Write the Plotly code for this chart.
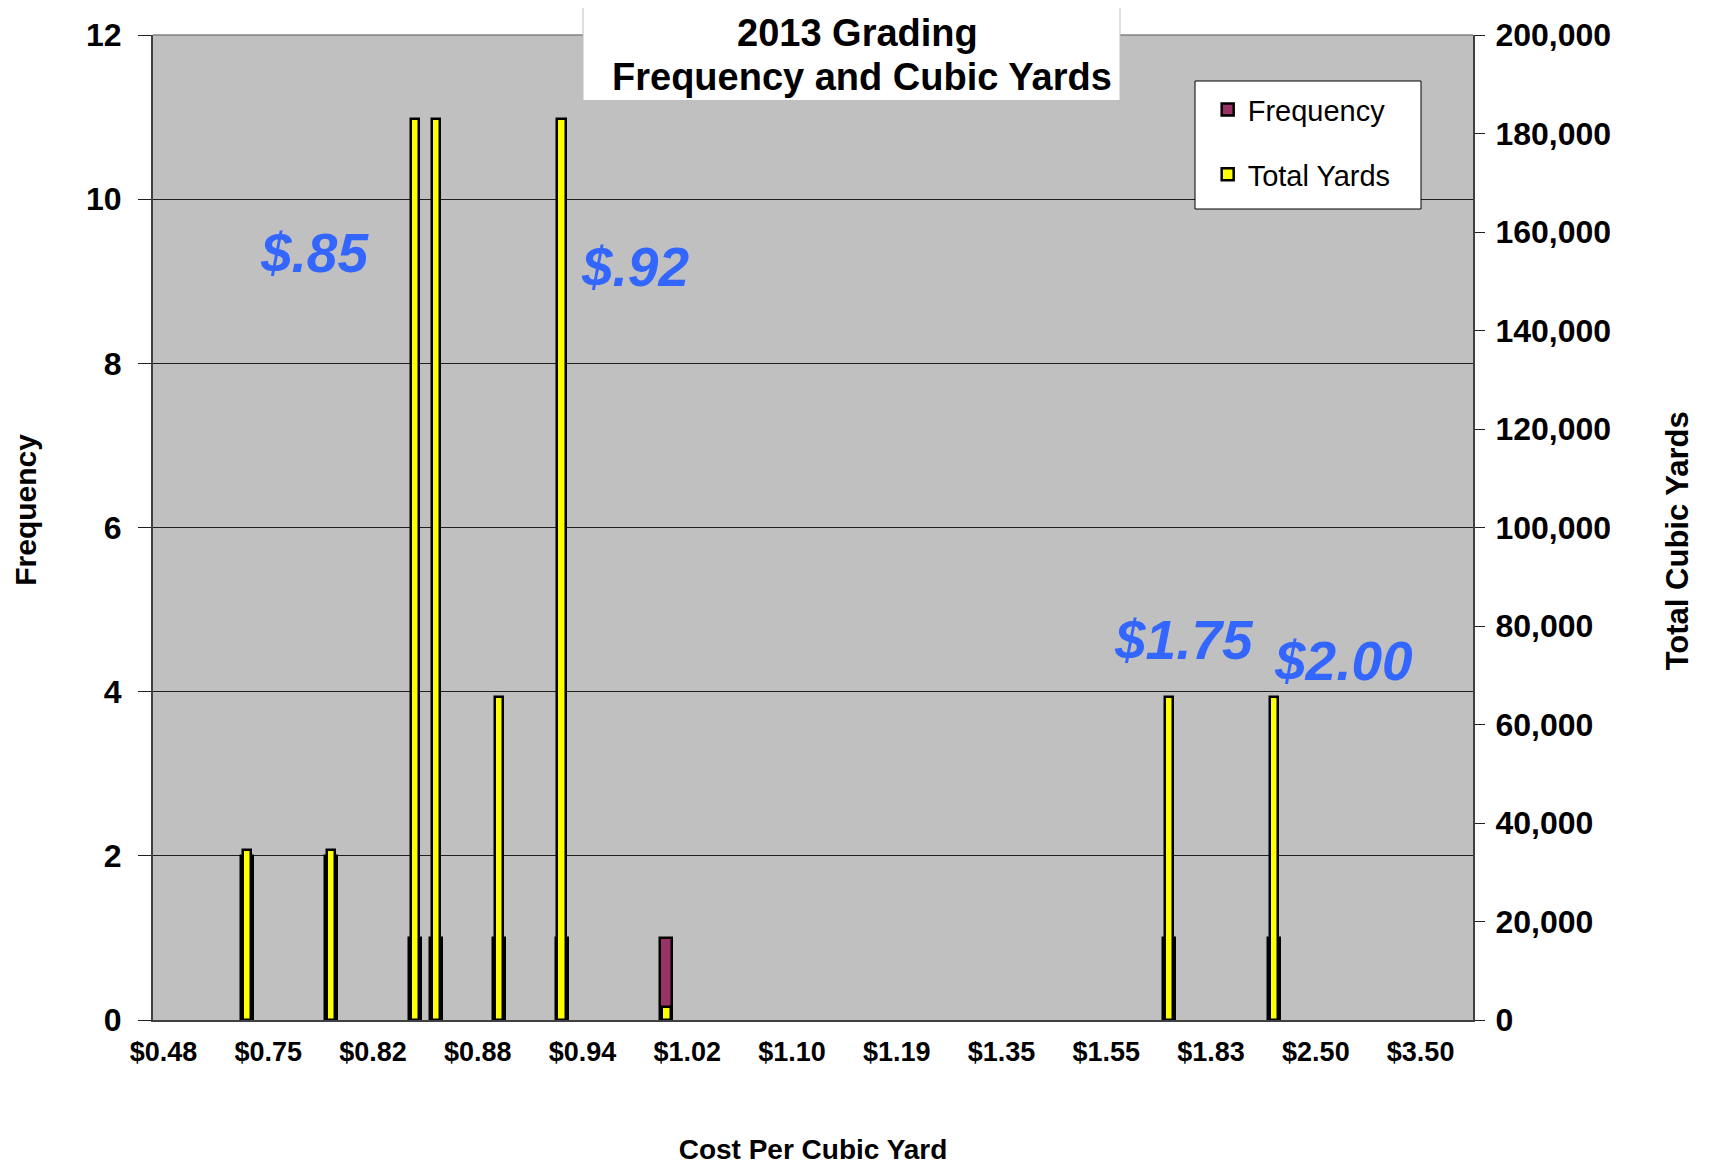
import plotly.graph_objects as go

# ---- data ----
categories = [
    "$0.48", "$0.50", "$0.60", "$0.65", "$0.70",
    "$0.75", "$0.77", "$0.78", "$0.80", "$0.81",
    "$0.82", "$0.83", "$0.84", "$0.85", "$0.86",
    "$0.88", "$0.89", "$0.90", "$0.91", "$0.92",
    "$0.94", "$0.95", "$0.97", "$0.98", "$1.00",
    "$1.02", "$1.03", "$1.05", "$1.07", "$1.08",
    "$1.10", "$1.12", "$1.14", "$1.15", "$1.17",
    "$1.19", "$1.20", "$1.25", "$1.28", "$1.30",
    "$1.35", "$1.40", "$1.45", "$1.48", "$1.50",
    "$1.55", "$1.60", "$1.65", "$1.75", "$1.80",
    "$1.83", "$1.85", "$1.90", "$2.00", "$2.25",
    "$2.50", "$2.75", "$2.85", "$3.00", "$3.25",
    "$3.50", "$3.75", "$4.00",
]
# empty bins are left blank (no bar drawn)
frequency = [None] * 63
total_yards = [None] * 63
freq_points = {"$0.70": 2, "$0.80": 2, "$0.84": 1, "$0.85": 1, "$0.89": 1,
               "$0.92": 1, "$1.00": 1, "$1.75": 1, "$2.00": 1}
yard_points = {"$0.70": 34500, "$0.80": 34500, "$0.84": 183000, "$0.85": 183000,
               "$0.89": 65600, "$0.92": 183000, "$1.00": 2600, "$1.75": 65600,
               "$2.00": 65600}
for k, v in freq_points.items():
    frequency[categories.index(k)] = v
for k, v in yard_points.items():
    total_yards[categories.index(k)] = v

tick_labels = ["$0.48", "$0.75", "$0.82", "$0.88", "$0.94", "$1.02", "$1.10",
               "$1.19", "$1.35", "$1.55", "$1.83", "$2.50", "$3.50"]

title_lines = ["2013 Grading", "Frequency and Cubic Yards"]

callouts = ["$.85", "$.92", "$1.75", "$2.00"]
callout_pos = [(0.1227, 0.779), (0.365, 0.764), (0.781, 0.386), (0.902, 0.364)]

FONT = "Liberation Sans, Arial, sans-serif"

# the page body adds an 8px offset; size the figure so the plot lands where the reference has it
W, H = 1705, 1157


def px_x(x):
    return (x - 153) / 1320


def px_y(y):
    return (1020 - y) / 985


fig = go.Figure()
fig.add_trace(go.Bar(
    x=categories, y=frequency, name="Frequency", yaxis="y",
    width=0.57, marker=dict(color="#993366", line=dict(color="black", width=2.5)),
    legendgroup="f",
))
fig.add_trace(go.Bar(
    x=categories, y=total_yards, name="Total Yards", yaxis="y2",
    width=0.40, marker=dict(color="#FFFF00", line=dict(color="black", width=2.5)),
    legendgroup="t",
))

annotations = []
for txt, (ax, ay) in zip(callouts, callout_pos):
    annotations.append(dict(
        text="<b><i>" + txt + "</i></b>", x=ax, y=ay, xref="paper", yref="paper",
        showarrow=False, xanchor="center", yanchor="middle",
        font=dict(family=FONT, size=55, color="#3366FF"),
    ))
# chart title (two lines inside a white box)
for txt, cx, cy in zip(title_lines, [857.6, 862], [33, 76.5]):
    annotations.append(dict(
        text="<b>" + txt + "</b>", x=px_x(cx), y=px_y(cy), xref="paper", yref="paper",
        xanchor="center", yanchor="middle", showarrow=False,
        font=dict(family=FONT, size=38, color="black"),
    ))
# axis titles of the two value axes
annotations.append(dict(
    text="<b>Frequency</b>", x=px_x(26), y=0.518, xref="paper", yref="paper",
    showarrow=False, textangle=-90, xanchor="center", yanchor="middle",
    font=dict(family=FONT, size=30, color="black"),
))
annotations.append(dict(
    text="<b>Total Cubic Yards</b>", x=px_x(1677), y=0.486, xref="paper", yref="paper",
    showarrow=False, textangle=-90, xanchor="center", yanchor="middle",
    font=dict(family=FONT, size=31, color="black"),
))

fig.update_layout(
    width=W, height=H,
    margin=dict(l=145, r=240, t=27, b=145, autoexpand=False),
    paper_bgcolor="white", plot_bgcolor="#C0C0C0",
    barmode="overlay", bargap=0,
    font=dict(family=FONT, color="black"),
    showlegend=True,
    legend=dict(
        x=0.799, y=0.95, xanchor="left", yanchor="top",
        bgcolor="rgba(0,0,0,0)", borderwidth=0,
        font=dict(family=FONT, size=29, color="black"),
        traceorder="grouped", tracegroupgap=24,
        itemwidth=30,
    ),
    xaxis=dict(
        type="category", categoryorder="array", categoryarray=categories,
        range=[-0.5, 62.5], tickmode="array", tickvals=tick_labels, ticktext=tick_labels,
        showgrid=False, showline=True, linecolor="#404040", linewidth=2,
        ticks="", tickfont=dict(family=FONT, size=27, color="black", weight="bold"),
        ticklabelstandoff=7, automargin=False,
        title=dict(text="<b>Cost Per Cubic Yard</b>", standoff=74,
                   font=dict(family=FONT, size=28, color="black")),
    ),
    yaxis=dict(
        range=[0, 12], dtick=2, tick0=0, showgrid=True, gridcolor="#202020", gridwidth=1,
        showline=True, linecolor="#404040", linewidth=2, zeroline=False,
        ticks="outside", ticklen=13, tickcolor="#202020", automargin=False,
        ticklabelstandoff=10,
        tickfont=dict(family=FONT, size=32, color="black", weight="bold"),
    ),
    yaxis2=dict(
        range=[0, 200000], dtick=20000, tick0=0, overlaying="y", side="right",
        showgrid=False, showline=True, linecolor="#404040", linewidth=2, zeroline=False,
        ticks="outside", ticklen=10, tickcolor="#202020", tickformat=",",
        automargin=False, ticklabelstandoff=4,
        tickfont=dict(family=FONT, size=32, color="black", weight="bold"),
    ),
    annotations=annotations,
    shapes=[
        dict(type="line", xref="paper", yref="paper", x0=0, x1=1, y0=1, y1=1,
             line=dict(color="#808080", width=1.5)),
        # title frame
        dict(type="rect", xref="paper", yref="paper", layer="above",
             x0=px_x(583), x1=px_x(1120), y0=px_y(100.5), y1=px_y(5.5),
             fillcolor="white", line=dict(color="#BFBFBF", width=1)),
        # legend frame
        dict(type="rect", xref="paper", yref="paper", layer="above",
             x0=px_x(1195), x1=px_x(1421), y0=px_y(209), y1=px_y(81),
             fillcolor="white", line=dict(color="black", width=1)),
    ],
)

fig.write_html("out.html")
